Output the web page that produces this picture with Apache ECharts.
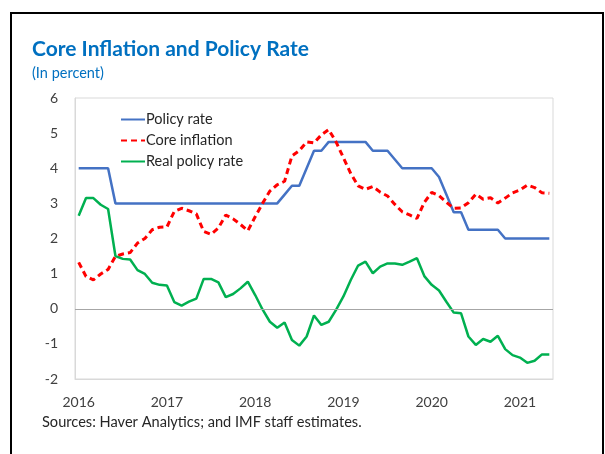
<!DOCTYPE html>
<html>
<head>
<meta charset="utf-8">
<script src="https://cdn.jsdelivr.net/npm/echarts@6/dist/echarts.min.js"></script>
<style>
  html, body { margin: 0; padding: 0; background: #fff; }
  #chart { width: 605px; height: 454px; }
</style>
</head>
<body>
<div id="chart"></div>
<script>
// monthly, Jan 2016 - May 2021
const years = ['2016', '2017', '2018', '2019', '2020', '2021'];
const months = [];
years.forEach(y => {
  for (let m = 1; m <= 12; m++) {
    if (y === '2021' && m > 5) break;
    months.push(y + '-' + (m < 10 ? '0' + m : m));
  }
});

const policyRate = [
  4, 4, 4, 4, 4, 3, 3, 3, 3, 3, 3, 3,
  3, 3, 3, 3, 3, 3, 3, 3, 3, 3, 3, 3,
  3, 3, 3, 3, 3.25, 3.5, 3.5, 4, 4.5, 4.5, 4.75, 4.75,
  4.75, 4.75, 4.75, 4.75, 4.5, 4.5, 4.5, 4.25, 4, 4, 4, 4,
  4, 3.75, 3.25, 2.75, 2.75, 2.25, 2.25, 2.25, 2.25, 2.25, 2, 2,
  2, 2, 2, 2, 2
];
const coreInflation = [
  1.32, 0.92, 0.82, 0.99, 1.12, 1.49, 1.56, 1.6, 1.87, 2.0, 2.25, 2.32,
  2.33, 2.77, 2.86, 2.79, 2.7, 2.2, 2.12, 2.3, 2.67, 2.56, 2.4, 2.22,
  2.62, 3.0, 3.35, 3.53, 3.63, 4.35, 4.5, 4.75, 4.72, 4.95, 5.1, 4.75,
  4.3, 3.85, 3.5, 3.4, 3.48, 3.32, 3.21, 2.97, 2.76, 2.67, 2.57, 3.03,
  3.31, 3.22, 3.03, 2.86, 2.87, 3.02, 3.26, 3.12, 3.16, 3.01, 3.15, 3.3,
  3.38, 3.52, 3.45, 3.3, 3.29
];
const realPolicyRate = [
  2.65, 3.15, 3.15, 2.96, 2.84, 1.5, 1.42, 1.4, 1.1, 0.99, 0.74, 0.68,
  0.66, 0.19, 0.09, 0.2, 0.29, 0.85, 0.85, 0.75, 0.33, 0.42, 0.58, 0.77,
  0.39, -0.02, -0.37, -0.54, -0.39, -0.89, -1.05, -0.79, -0.19, -0.46, -0.37, -0.03,
  0.35, 0.82, 1.23, 1.34, 1.01, 1.2, 1.29, 1.29, 1.25, 1.34, 1.44, 0.93,
  0.68, 0.52, 0.2, -0.11, -0.13, -0.79, -1.03, -0.86, -0.94, -0.77, -1.15, -1.32,
  -1.39, -1.54, -1.48, -1.3, -1.3
];
const yTicks = { min: -2, max: 6, step: 1 };

const FONT = 'Lato';
const chart = echarts.init(document.getElementById('chart'), null, { renderer: 'canvas' });

const option = {
  animation: false,
  textStyle: { fontFamily: FONT },
  title: {
    text: 'Core Inflation and Policy Rate',
    subtext: '(In percent)',
    left: 32,
    top: 39,
    itemGap: 6,
    padding: 0,
    textStyle: { fontFamily: FONT, fontSize: 21, fontWeight: 'bold', color: '#0070C0' },
    subtextStyle: { fontFamily: FONT, fontSize: 14.5, color: '#0070C0' }
  },
  graphic: [
    {
      type: 'rect',
      shape: { x: 11, y: 13, width: 592, height: 500 },
      style: { fill: 'none', stroke: '#000', lineWidth: 2 },
      silent: true
    },
    {
      type: 'text',
      left: 42,
      top: 415,
      style: {
        text: 'Sources: Haver Analytics; and IMF staff estimates.',
        fontFamily: FONT,
        fontSize: 14.6,
        fill: '#262626'
      }
    }
  ],
  legend: {
    orient: 'vertical',
    left: 120,
    top: 112,
    itemWidth: 24,
    itemHeight: 14,
    itemGap: 6,
    padding: 0,
    itemStyle: { opacity: 0 },
    textStyle: { fontFamily: FONT, fontSize: 14.5, color: '#262626', padding: [0, 0, 0, -4] },
    data: ['Policy rate', 'Core inflation', 'Real policy rate']
  },
  grid: {
    left: 75,
    right: 52,
    top: 98,
    bottom: 75,
    show: true,
    borderColor: '#d9d9d9',
    borderWidth: 1
  },
  xAxis: {
    type: 'category',
    data: months,
    boundaryGap: true,
    axisLine: { onZero: false, lineStyle: { color: '#d9d9d9' } },
    axisTick: { show: false },
    axisLabel: {
      interval: (idx) => idx % 12 === 0,
      formatter: (val) => val.slice(0, 4),
      margin: 16,
      fontFamily: FONT,
      fontSize: 14,
      color: '#404040'
    }
  },
  yAxis: {
    type: 'value',
    min: yTicks.min,
    max: yTicks.max,
    interval: yTicks.step,
    axisLine: { show: true, lineStyle: { color: '#d9d9d9' } },
    axisTick: { show: false },
    splitLine: { show: false },
    axisLabel: { margin: 17, fontFamily: FONT, fontSize: 14, color: '#404040' }
  },
  series: [
    {
      name: 'Policy rate',
      type: 'line',
      data: policyRate,
      symbol: 'none',
      color: '#4472C4',
      lineStyle: { color: '#4472C4', width: 2.5 },
      markLine: {
        silent: true,
        symbol: 'none',
        label: { show: false },
        lineStyle: { color: '#a6a6a6', type: 'solid', width: 1 },
        data: [{ yAxis: 0 }]
      }
    },
    {
      name: 'Core inflation',
      type: 'line',
      data: coreInflation,
      symbol: 'none',
      color: '#FF0000',
      lineStyle: { color: '#FF0000', width: 3, type: [6, 4] }
    },
    {
      name: 'Real policy rate',
      type: 'line',
      data: realPolicyRate,
      symbol: 'none',
      color: '#00B050',
      lineStyle: { color: '#00B050', width: 2.5 }
    }
  ]
};

chart.setOption(option);
window.addEventListener('resize', () => chart.resize());
</script>
</body>
</html>
